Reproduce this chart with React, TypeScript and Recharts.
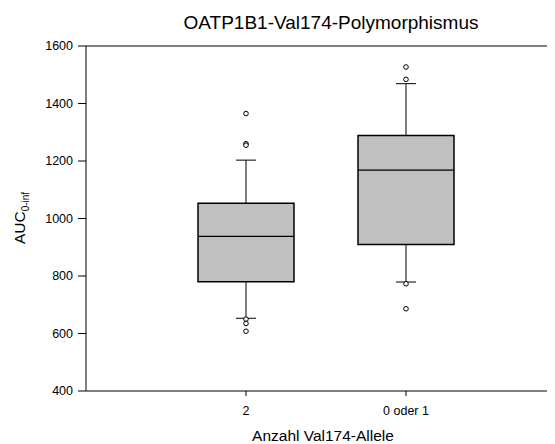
import { ComposedChart, XAxis, YAxis, Scatter, ReferenceArea, ReferenceLine } from 'recharts'

// Box plot: AUC(0-inf) by number of Val174 alleles
const groups = ['2', '0 oder 1']
const groupPos = [1, 2]
const whiskerLow = [653, 779]
const q1 = [780, 910]
const median = [938, 1168]
const q3 = [1053, 1289]
const whiskerHigh = [1203, 1469]
const outliers = [
  [1365, 1260, 1255, 650, 635, 608],
  [1527, 1484, 773, 686],
]
const yTicks = [400, 600, 800, 1000, 1200, 1400, 1600]

const FONT = '"Liberation Sans", Arial, Helvetica, sans-serif'
const W = 547
const H = 436
const BOX_HALF = 0.3
const CAP_HALF = 0.0625

const outlierPoints = outliers.flatMap((vals, i) => vals.map((v) => ({ x: groupPos[i], y: v })))

const OutlierDot = (props: any) => {
  const { cx, cy } = props
  if (cx == null || cy == null) return null
  return <circle cx={cx} cy={cy} r={2.3} fill="#fff" stroke="#000" strokeWidth={1} />
}

// title and x-axis title on top of the chart surface
const Titles = () => (
  <svg
    width={W}
    height={H}
    style={{ position: 'absolute', left: 0, top: 0, pointerEvents: 'none' }}
    fontFamily={FONT}
    fill="#000"
  >
    <text x={323} y={21} textAnchor="middle" fontSize={19}>
      OATP1B1-Val174-Polymorphismus
    </text>
    <text x={315} y={433} textAnchor="middle" fontSize={15.5}>
      Anzahl Val174-Allele
    </text>
  </svg>
)

// rotated y-axis title with subscript
const YTitle = () => (
  <div
    style={{
      position: 'absolute',
      left: -48,
      top: 201,
      width: 120,
      height: 18,
      lineHeight: '18px',
      textAlign: 'center',
      fontFamily: FONT,
      fontSize: 15.5,
      color: '#000',
      whiteSpace: 'nowrap',
      transform: 'rotate(-90deg)',
      transformOrigin: '50% 50%',
      pointerEvents: 'none',
    }}
  >
    AUC<span style={{ fontSize: 10, verticalAlign: -4 }}>0-inf</span>
  </div>
)

export default function App() {
  return (
    <div style={{ position: 'relative', width: W, height: H, overflow: 'hidden', background: '#fff' }}>
      <ComposedChart width={570} height={H} margin={{ top: 38, right: 12, bottom: 0, left: 0 }}>
        <XAxis
          type="number"
          dataKey="x"
          domain={[0, 3]}
          ticks={groupPos}
          tickFormatter={(v: number) => groups[groupPos.indexOf(v)] ?? ''}
          tickSize={5}
          tickMargin={10}
          height={53}
          axisLine={{ stroke: '#000', strokeWidth: 1 }}
          tickLine={{ stroke: '#000' }}
          tick={{ fill: '#000', fontSize: 12.5, fontFamily: FONT }}
          allowDataOverflow
        />
        <YAxis
          type="number"
          dataKey="y"
          domain={[400, 1600]}
          ticks={yTicks}
          width={78}
          tickSize={8}
          tickMargin={5}
          axisLine={{ stroke: '#000', strokeWidth: 1 }}
          tickLine={{ stroke: '#000' }}
          tick={{ fill: '#000', fontSize: 12.5, fontFamily: FONT }}
          allowDataOverflow
        />

        {/* top frame line */}
        <ReferenceLine y={1600} stroke="#000" strokeWidth={1} />

        {groupPos.map((c, i) => (
          <ReferenceArea
            key={`box-${i}`}
            x1={c - BOX_HALF}
            x2={c + BOX_HALF}
            y1={q1[i]}
            y2={q3[i]}
            fill="#c0c0c0"
            fillOpacity={1}
            stroke="#000"
            strokeWidth={1.5}
          />
        ))}
        {groupPos.map((c, i) => (
          <ReferenceLine
            key={`med-${i}`}
            segment={[
              { x: c - BOX_HALF, y: median[i] },
              { x: c + BOX_HALF, y: median[i] },
            ]}
            stroke="#000"
            strokeWidth={1.2}
          />
        ))}
        {groupPos.map((c, i) => (
          <ReferenceLine
            key={`wh-up-${i}`}
            segment={[
              { x: c, y: q3[i] },
              { x: c, y: whiskerHigh[i] },
            ]}
            stroke="#000"
            strokeWidth={1}
          />
        ))}
        {groupPos.map((c, i) => (
          <ReferenceLine
            key={`wh-lo-${i}`}
            segment={[
              { x: c, y: q1[i] },
              { x: c, y: whiskerLow[i] },
            ]}
            stroke="#000"
            strokeWidth={1}
          />
        ))}
        {groupPos.map((c, i) => (
          <ReferenceLine
            key={`cap-up-${i}`}
            segment={[
              { x: c - CAP_HALF, y: whiskerHigh[i] },
              { x: c + CAP_HALF, y: whiskerHigh[i] },
            ]}
            stroke="#000"
            strokeWidth={1}
          />
        ))}
        {groupPos.map((c, i) => (
          <ReferenceLine
            key={`cap-lo-${i}`}
            segment={[
              { x: c - CAP_HALF, y: whiskerLow[i] },
              { x: c + CAP_HALF, y: whiskerLow[i] },
            ]}
            stroke="#000"
            strokeWidth={1}
          />
        ))}

        <Scatter data={outlierPoints} dataKey="y" shape={<OutlierDot />} isAnimationActive={false} />
      </ComposedChart>
      <Titles />
      <YTitle />
    </div>
  )
}
